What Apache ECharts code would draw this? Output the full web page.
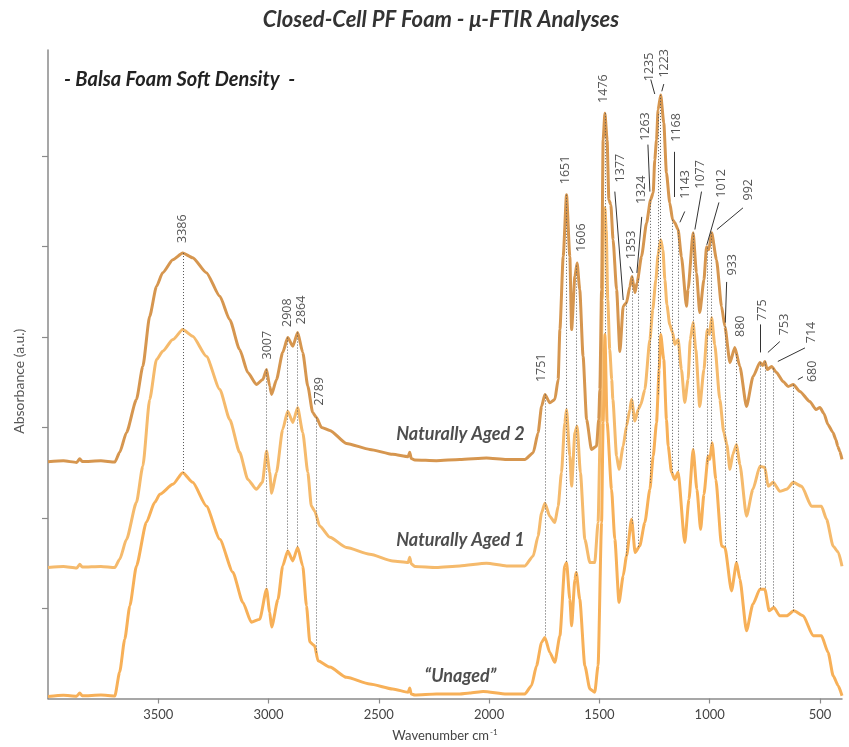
<!DOCTYPE html>
<html><head><meta charset="utf-8">
<script src="https://cdn.jsdelivr.net/npm/echarts@6/dist/echarts.min.js"></script>
<style>html,body{margin:0;padding:0;background:#fff}#c{width:849px;height:747px}</style>
</head><body><div id="c"></div>
<script>
// ---- tick values ----
const xTickValues = [3500,3000,2500,2000,1500,1000,500];
const yTickValues = [0.1,0.2,0.3,0.4,0.5,0.6];

// ---- spectra (wavenumber cm-1, absorbance a.u.) ----
const aged2Wn = [4000,3930,3870,3856,3845,3760,3697,3675,3644,3599,3570,3539,3508,3480,3434,3389,3344,3282,3221,3176,3131,3094,3055,3026,3009,2995,2986,2964,2936,2913,2890,2868,2845,2822,2800,2783,2760,2722,2647,2541,2437,2367,2360,2353,2337,2239,2133,2012,1921,1838,1800,1778,1762,1747,1725,1702,1687,1679,1664,1649,1634,1626,1611,1601,1589,1574,1558,1536,1513,1503,1498,1490,1483,1475,1465,1457,1448,1438,1422,1407,1392,1377,1362,1352,1339,1329,1309,1286,1268,1256,1249,1241,1234,1222,1208,1196,1181,1168,1158,1143,1128,1105,1098,1075,1060,1045,1026,1014,1004,991,969,946,931,908,886,863,833,803,772,759,750,739,719,697,667,644,621,591,546,518,500,482,464,441,428,419,410,400];
const aged2Abs = [0.2619,0.2630,0.2613,0.2652,0.2622,0.2630,0.2617,0.2724,0.2945,0.3309,0.3677,0.4230,0.4561,0.4713,0.4856,0.4930,0.4878,0.4713,0.4451,0.4193,0.3862,0.3608,0.3475,0.3530,0.3641,0.3456,0.3365,0.3530,0.3829,0.3994,0.3898,0.4050,0.3829,0.3456,0.3166,0.3110,0.3000,0.2967,0.2823,0.2757,0.2702,0.2676,0.2724,0.2657,0.2639,0.2632,0.2646,0.2661,0.2646,0.2646,0.2720,0.2941,0.3235,0.3365,0.3273,0.3309,0.3530,0.4083,0.4893,0.5575,0.4893,0.4083,0.4672,0.4820,0.4525,0.3788,0.3088,0.2757,0.2793,0.3088,0.3420,0.4525,0.6182,0.6477,0.6182,0.5519,0.5464,0.5077,0.4525,0.3840,0.4340,0.4381,0.4558,0.4669,0.4492,0.4602,0.4893,0.5265,0.5519,0.5597,0.5961,0.6182,0.6514,0.6680,0.6370,0.5818,0.5486,0.5298,0.5265,0.5188,0.4890,0.4340,0.4525,0.5155,0.4713,0.4271,0.4635,0.5000,0.4967,0.5155,0.4856,0.4337,0.4116,0.3718,0.3884,0.3674,0.3232,0.3564,0.3718,0.3685,0.3729,0.3641,0.3674,0.3608,0.3508,0.3453,0.3475,0.3398,0.3287,0.3199,0.3221,0.3155,0.3033,0.2945,0.2867,0.2790,0.2735,0.2646];

const aged1Wn = [4000,3930,3870,3856,3845,3760,3697,3675,3644,3599,3570,3539,3508,3480,3434,3389,3344,3282,3221,3176,3131,3094,3055,3028,3009,2995,2986,2964,2936,2913,2890,2868,2845,2822,2806,2791,2768,2722,2647,2541,2437,2367,2360,2353,2337,2239,2133,2012,1921,1838,1800,1778,1762,1747,1725,1702,1687,1672,1657,1649,1634,1626,1611,1601,1586,1566,1543,1521,1506,1495,1487,1480,1475,1469,1462,1453,1444,1439,1422,1411,1392,1377,1362,1354,1339,1324,1312,1294,1271,1258,1244,1234,1222,1212,1203,1194,1181,1168,1158,1143,1128,1113,1098,1088,1075,1063,1045,1026,1011,1001,991,977,954,936,922,908,895,878,863,833,804,772,750,735,712,682,651,621,583,538,493,470,440,417,400];
const aged1Abs = [0.1450,0.1460,0.1443,0.1485,0.1455,0.1462,0.1450,0.1541,0.1762,0.2171,0.2572,0.3309,0.3751,0.3843,0.3972,0.4083,0.4009,0.3788,0.3420,0.3088,0.2724,0.2425,0.2315,0.2392,0.2738,0.2503,0.2271,0.2503,0.2978,0.3180,0.3055,0.3218,0.2945,0.2503,0.2130,0.2075,0.1909,0.1785,0.1671,0.1597,0.1523,0.1505,0.1564,0.1490,0.1461,0.1450,0.1467,0.1497,0.1467,0.1467,0.1578,0.1799,0.2057,0.2160,0.2017,0.1947,0.2127,0.2499,0.3052,0.3199,0.2683,0.2351,0.2941,0.3014,0.2499,0.1762,0.1505,0.1505,0.1947,0.3052,0.4414,0.5354,0.5431,0.5188,0.4414,0.3862,0.3530,0.3309,0.2683,0.2536,0.2793,0.3014,0.3199,0.3309,0.3070,0.3199,0.3254,0.3420,0.3972,0.4304,0.4635,0.4912,0.5077,0.4967,0.4635,0.4359,0.4138,0.4050,0.3917,0.3972,0.3641,0.3276,0.3530,0.3972,0.4160,0.3862,0.3232,0.3641,0.4083,0.4028,0.4215,0.3917,0.3309,0.2945,0.2812,0.2536,0.2702,0.2812,0.2591,0.2017,0.2315,0.2569,0.2558,0.2348,0.2392,0.2293,0.2315,0.2392,0.2348,0.2127,0.2127,0.1983,0.1685,0.1619,0.1464];

const unagedWn = [4000,3930,3870,3856,3845,3760,3697,3675,3652,3629,3599,3554,3516,3493,3434,3389,3344,3282,3221,3162,3117,3078,3040,3009,2995,2986,2957,2936,2913,2890,2868,2845,2828,2813,2791,2776,2722,2647,2541,2437,2367,2360,2353,2337,2239,2133,2088,2027,1921,1838,1808,1785,1762,1747,1725,1702,1679,1657,1649,1634,1626,1611,1605,1589,1566,1543,1521,1506,1490,1483,1475,1465,1445,1430,1411,1392,1377,1354,1338,1317,1294,1271,1256,1241,1229,1222,1208,1196,1188,1173,1158,1143,1113,1094,1075,1058,1041,1026,1007,999,989,972,946,931,901,878,863,833,804,772,750,730,709,682,651,618,576,531,493,463,440,417,400];
const unagedAbs = [0.0022,0.0035,0.0025,0.0060,0.0030,0.0038,0.0028,0.0293,0.0657,0.1025,0.1467,0.1950,0.2171,0.2260,0.2370,0.2499,0.2392,0.2130,0.1762,0.1398,0.1066,0.0845,0.0878,0.1210,0.0956,0.0790,0.1099,0.1467,0.1633,0.1523,0.1671,0.1467,0.1025,0.0624,0.0583,0.0418,0.0348,0.0234,0.0160,0.0105,0.0069,0.0116,0.0050,0.0039,0.0050,0.0050,0.0061,0.0077,0.0050,0.0050,0.0141,0.0362,0.0621,0.0676,0.0510,0.0400,0.0694,0.1467,0.1505,0.1099,0.0804,0.1320,0.1394,0.1099,0.0362,0.0105,0.0069,0.0362,0.1947,0.3055,0.4028,0.3055,0.2315,0.1762,0.1063,0.1357,0.1578,0.1983,0.1615,0.1688,0.1947,0.2315,0.2683,0.3052,0.3641,0.4028,0.3751,0.3088,0.2793,0.2503,0.2425,0.2503,0.1726,0.2204,0.2757,0.2315,0.1873,0.2260,0.2683,0.2646,0.2831,0.2425,0.1688,0.1671,0.1191,0.1505,0.1320,0.0749,0.1044,0.1210,0.1210,0.0970,0.1008,0.0915,0.0915,0.0970,0.0915,0.0694,0.0694,0.0510,0.0252,0.0141,0.0031];

// ---- peak annotations ----
const peakLabels  = ['3386','3007','2908','2864','2789','1751','1651','1606','1476','1377','1353','1324','1263','1235','1223','1168','1143','1077','1012','992','933','880','775','753','714','680'];
const peakLineWn  = [3389,3009,2913,2868,2783,1747,1649,1603,1475,1377,1352,1326,1268,1235,1222,1168,1143,1075,1011,991,931,878,772,750,712,620];
const labelWn     = [3389,3004,2913,2849,2768,1761,1652,1580,1480,1403,1353,1308,1289,1271,1203,1149,1108,1040,945,822,899,859,759,659,537,532];
const labelAbs    = [0.520,0.391,0.427,0.430,0.340,0.366,0.585,0.510,0.675,0.587,0.502,0.563,0.633,0.699,0.703,0.632,0.569,0.580,0.570,0.563,0.480,0.412,0.430,0.414,0.405,0.362];
const leaderWnA   = [1430,1362,1308,1280,1267,1208,1162,1113,1037,958,849,923,772,682,568,577];
const leaderAbsA  = [0.561,0.478,0.533,0.613,0.685,0.680,0.605,0.539,0.561,0.549,0.543,0.461,0.414,0.395,0.388,0.356];
const leaderWnB   = [1392,1348,1330,1271,1249,1217,1162,1135,1067,1013,967,929,772,736,691,600];
const leaderAbsB  = [0.441,0.471,0.471,0.561,0.669,0.672,0.555,0.527,0.519,0.502,0.519,0.416,0.383,0.383,0.373,0.353];

const seriesNames = ['Naturally Aged 2','Naturally Aged 1','\u201cUnaged\u201d'];
const seriesTagWn  = [2130,2130,2130];
const seriesTagAbs = [0.292,0.175,0.025];

// ---- helpers ----
function pairs(w, a){ return w.map((x,i)=>[x,a[i]]); }
function interp(w, a, x){
  for (let i=0;i<w.length-1;i++){
    if (w[i]>=x && x>=w[i+1]){ const t=(w[i]-x)/(w[i]-w[i+1]); return a[i]+t*(a[i+1]-a[i]); }
  }
  return null;
}
const FONT = 'Lato, "Open Sans", sans-serif';
const NUMFONT = '"Open Sans", Lato, sans-serif';
const COL2 = '#D6964F', COL1 = '#F5BA6C', COL0 = '#F7B058';

const chart = echarts.init(document.getElementById('c'), null, {renderer:'canvas'});
const lineBase = {type:'line', showSymbol:false, smooth:0.2, smoothMonotone:'x', animation:false, silent:true};
chart.setOption({
  animation:false,
  backgroundColor:'#fff',
  grid:{left:48, right:7, top:50, bottom:47.5, containLabel:false},
  xAxis:{type:'value', min:400, max:4000, inverse:true,
    name:'Wavenumber cm{sup|-1}', nameLocation:'middle', nameGap:30,
    nameTextStyle:{color:'#444', fontSize:13, fontFamily:FONT,
      rich:{sup:{fontSize:8, color:'#444', fontFamily:FONT, verticalAlign:'top', padding:[0,0,6,1]}}},
    axisLine:{show:true, lineStyle:{color:'#8a8a8a', width:1.5}},
    axisTick:{show:true, customValues:xTickValues, length:5, lineStyle:{color:'#8a8a8a', width:1.2}},
    axisLabel:{show:true, customValues:xTickValues, margin:10, color:'#444', fontSize:13, fontFamily:FONT, formatter:v=>String(v)},
    splitLine:{show:false}},
  yAxis:{type:'value', min:0, max:0.7177,
    name:'Absorbance (a.u.)', nameLocation:'middle', nameGap:22, nameRotate:90,
    nameTextStyle:{color:'#555', fontSize:14, fontFamily:FONT, padding:[0,14,0,0]},
    axisLine:{show:true, lineStyle:{color:'#8a8a8a', width:1.5}},
    axisTick:{show:true, customValues:yTickValues, length:6, lineStyle:{color:'#8a8a8a', width:1.2}},
    axisLabel:{show:false},
    splitLine:{show:false}},
  graphic:[
    {type:'text', x:441, y:20, style:{text:'Closed-Cell PF Foam - \u03bc-FTIR Analyses', font:'italic bold 22px '+FONT, fill:'#333', textAlign:'center', textVerticalAlign:'middle'}},
    {type:'text', x:64, y:80, style:{text:'- Balsa Foam Soft Density  -', font:'italic bold 20px '+FONT, fill:'#222', textAlign:'left', textVerticalAlign:'middle'}}
  ],
  series:[
    Object.assign({}, lineBase, {name:'Unaged', data:pairs(unagedWn, unagedAbs), lineStyle:{color:COL0, width:3}, itemStyle:{color:COL0}, z:2}),
    Object.assign({}, lineBase, {name:'Naturally Aged 1', data:pairs(aged1Wn, aged1Abs), lineStyle:{color:COL1, width:3}, itemStyle:{color:COL1}, z:3}),
    Object.assign({}, lineBase, {name:'Naturally Aged 2', data:pairs(aged2Wn, aged2Abs), lineStyle:{color:COL2, width:3}, itemStyle:{color:COL2}, z:4}),
    {type:'lines', coordinateSystem:'cartesian2d', silent:true, animation:false, z:6,
      lineStyle:{color:'#555', width:1, type:[1,2], opacity:1},
      data: peakLineWn.map(p=>({coords:[[p, interp(aged2Wn, aged2Abs, p)], [p, interp(unagedWn, unagedAbs, p)]]}))},
    {type:'lines', coordinateSystem:'cartesian2d', silent:true, animation:false, z:6,
      lineStyle:{color:'#333', width:1, opacity:1},
      data: leaderWnA.map((w,i)=>({coords:[[w, leaderAbsA[i]], [leaderWnB[i], leaderAbsB[i]]]}))},
    {type:'scatter', silent:true, animation:false, z:7, clip:false, symbolSize:1, itemStyle:{color:'rgba(0,0,0,0)'},
      data: labelWn.map((w,i)=>[w, labelAbs[i], peakLabels[i]]),
      label:{show:true, position:'inside', rotate:90, formatter:p=>p.value[2], color:'#2a2a2a', fontSize:12.5, fontFamily:NUMFONT}},
    {type:'scatter', silent:true, animation:false, z:7, clip:false, symbolSize:1, itemStyle:{color:'rgba(0,0,0,0)'},
      data: seriesTagWn.map((w,i)=>[w, seriesTagAbs[i], seriesNames[i]]),
      label:{show:true, position:'inside', formatter:p=>p.value[2], color:'#222', fontSize:18, fontStyle:'italic', fontWeight:'bold', fontFamily:FONT}}
  ]
});
</script>
</body></html>
